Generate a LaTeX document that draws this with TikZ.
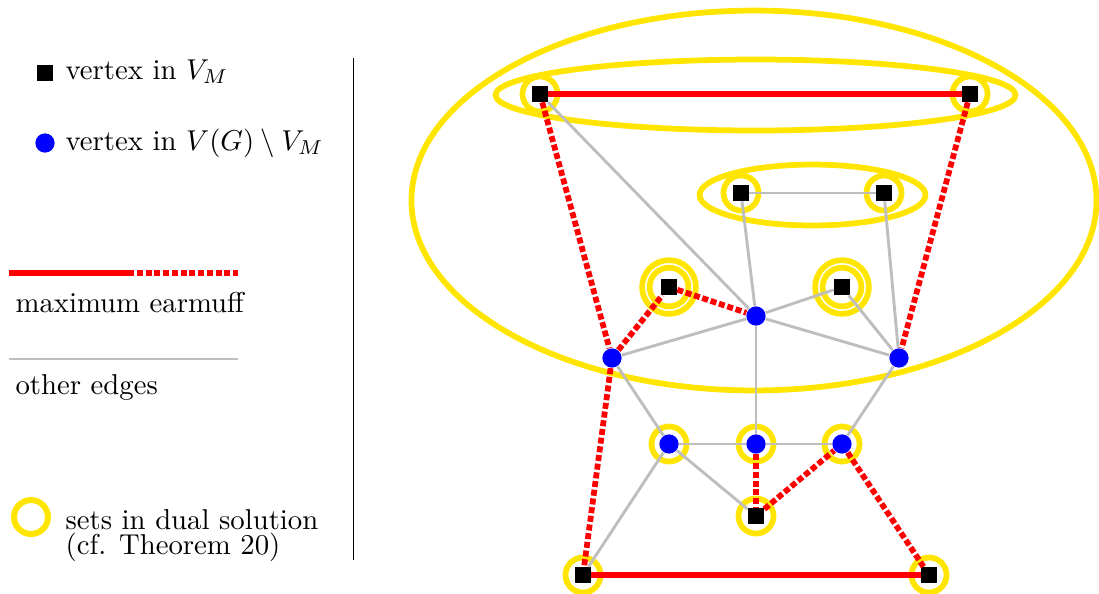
\documentclass[tikz,border=0pt]{standalone}
\definecolor{ringyellow}{RGB}{255,229,0}
\definecolor{edgegray}{RGB}{190,190,190}
\tikzset{
  sq/.style={rectangle,fill=black,minimum size=5.4pt,inner sep=0pt},
  bl/.style={circle,fill=blue,minimum size=6.7pt,inner sep=0pt},
  ring/.style={draw=ringyellow,line width=2pt},
  redsolid/.style={draw=red,line width=2pt},
  reddash/.style={draw=red,line width=2pt,dash pattern=on 2.1pt off 0.95pt},
  gedge/.style={draw=edgegray,line width=1pt},
  lbl/.style={anchor=base west,inner sep=0pt}
}
\begin{document}
\begin{tikzpicture}[x=0.348pt,y=-0.348pt]
\useasboundingbox (0,0) rectangle (1099,593);
% legend
\node[sq] (lsq) at (45,73) {};
\node[lbl] (t1) at (65,79) {vertex in $V_M$};
\node[bl] (lbc) at (45,143) {};
\node[lbl] (t2) at (65,150) {vertex in $V(G)\setminus V_M$};
\coordinate (r1) at (9,273);
\coordinate (r2) at (128,273);
\coordinate (r3) at (238,273);
\draw[redsolid] (r1) -- (r2);
\draw[reddash] (r2) -- (r3);
\node[lbl] (t3) at (15,312) {maximum earmuff};
\coordinate (g1) at (9,359);
\coordinate (g2) at (238,359);
\draw[gedge] (g1) -- (g2);
\node[lbl] (t4) at (15,394) {other edges};
\node[circle,draw=ringyellow,line width=2.1pt,minimum size=11.8pt,inner sep=0pt] (lring) at (31,517) {};
\node[lbl,align=left,font=\fontsize{10pt}{8.7pt}\selectfont] (t5) at (65,554) {sets in dual solution\\(cf. Theorem 20)};
\coordinate (v1) at (353,58);
\coordinate (v2) at (353,560);
\draw[line width=0.35pt] (v1) -- (v2);
% coordinates of vertices
\coordinate (pA) at (540,94);
\coordinate (pB) at (970,94);
\coordinate (pC) at (741,193);
\coordinate (pD) at (884,193);
\coordinate (pE) at (669,287);
\coordinate (pF) at (842,287);
\coordinate (pG) at (756,316);
\coordinate (pH) at (612,358);
\coordinate (pI) at (899,358);
\coordinate (pJ) at (669,444);
\coordinate (pK) at (756,444);
\coordinate (pL) at (842,444);
\coordinate (pM) at (756,516);
\coordinate (pN) at (583,575);
\coordinate (pO) at (929,575);
% dual sets
\draw[ring] (754,200.5) ellipse[x radius=119.2pt,y radius=66.1pt];
\draw[ring] (755.5,95) ellipse[x radius=90.5pt,y radius=12.35pt];
\draw[ring] (812.5,195) ellipse[x radius=39.3pt,y radius=10.6pt];
\foreach \p in {pA,pB,pC,pD,pJ,pK,pL,pM,pN,pO}{
  \draw[ring] (\p) circle[radius=6.1pt];
}
\foreach \p in {pE,pF}{
  \draw[ring] (\p) circle[radius=6.75pt];
  \draw[ring] (\p) circle[radius=9.35pt];
}
% vertices
\node[sq] (A) at (pA) {};
\node[sq] (B) at (pB) {};
\node[sq] (C) at (pC) {};
\node[sq] (D) at (pD) {};
\node[sq] (E) at (pE) {};
\node[sq] (F) at (pF) {};
\node[bl] (G) at (pG) {};
\node[bl] (H) at (pH) {};
\node[bl] (I) at (pI) {};
\node[bl] (J) at (pJ) {};
\node[bl] (K) at (pK) {};
\node[bl] (L) at (pL) {};
\node[sq] (M) at (pM) {};
\node[sq] (N) at (pN) {};
\node[sq] (O) at (pO) {};
% other edges
\draw[gedge] (A) -- (G);
\draw[gedge] (C) -- (D);
\draw[gedge] (C) -- (G);
\draw[gedge] (D) -- (I);
\draw[gedge] (G) -- (F);
\draw[gedge] (F) -- (I);
\draw[gedge] (G) -- (H);
\draw[gedge] (G) -- (I);
\draw[gedge] (G) -- (K);
\draw[gedge] (H) -- (J);
\draw[gedge] (I) -- (L);
\draw[gedge] (J) -- (K);
\draw[gedge] (K) -- (L);
\draw[gedge] (J) -- (N);
\draw[gedge] (J) -- (M);
% earmuff
\draw[redsolid] (A) -- (B);
\draw[redsolid] (N) -- (O);
\draw[reddash] (A) -- (H);
\draw[reddash] (B) -- (I);
\draw[reddash] (H) -- (E);
\draw[reddash] (E) -- (G);
\draw[reddash] (H) -- (N);
\draw[reddash] (K) -- (M);
\draw[reddash] (M) -- (L);
\draw[reddash] (L) -- (O);
\end{tikzpicture}
\end{document}
